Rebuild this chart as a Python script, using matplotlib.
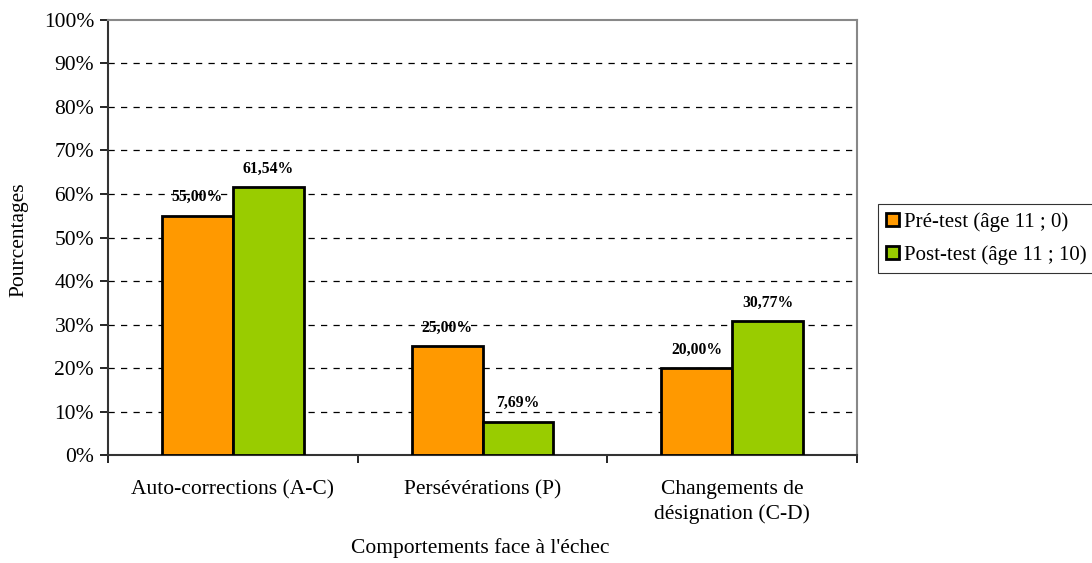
import matplotlib
matplotlib.use("Agg")
import matplotlib.pyplot as plt
import numpy as np

categories = ["Auto-corrections (A-C)", "Persévérations (P)", "Changements de\ndésignation (C-D)"]
series_names = ["Pré-test (âge 11 ; 0)", "Post-test (âge 11 ; 10)"]
pre_test = [55.00, 25.00, 20.00]
post_test = [61.54, 7.69, 30.77]
colors = ["#FF9900", "#99CC00"]
yticks = list(range(0, 101, 10))

plt.rcParams['font.family'] = ['Liberation Serif', 'DejaVu Serif']

fig = plt.figure(figsize=(10.92, 5.63), dpi=100)
ax = fig.add_axes([0.0989, 0.1918, 0.6859, 0.7727])

x = np.arange(len(categories))
w = 0.284
for i, (vals, col, name) in enumerate(zip([pre_test, post_test], colors, series_names)):
    pos = x + (i - 0.5) * w
    ax.bar(pos, vals, width=w, color=col, edgecolor="black", linewidth=2, label=name, zorder=3)
    for px, v in zip(pos, vals):
        ax.annotate(f"{v:.2f}%".replace(".", ","), (px, v), xytext=(0, 7.5),
                    textcoords="offset points", ha="center", va="bottom",
                    fontsize=11.3, fontweight="bold", zorder=4)

ax.set_xlim(-0.5, len(categories) - 0.5)
ax.set_ylim(0, 100)
ax.set_yticks(yticks)
ax.set_yticklabels([f"{t}%" for t in yticks], fontsize=15.5)
ax.set_xticks(x)
ax.set_xticklabels(categories, fontsize=15.5, linespacing=1.35)
ax.tick_params(axis="x", length=0, pad=18)
ax.set_xticks(np.arange(len(categories) + 1) - 0.5, minor=True)
ax.tick_params(axis="x", which="minor", length=6, width=1.2, direction="out")
ax.tick_params(axis="y", length=6, width=1.2, direction="out", pad=4)

for t in yticks[1:-1]:
    ax.axhline(t, color="black", linestyle=(0, (5, 5)), linewidth=0.9, zorder=1)

for s in ["left", "bottom"]:
    ax.spines[s].set_color("#333333")
    ax.spines[s].set_linewidth(1.5)
for s in ["top", "right"]:
    ax.spines[s].set_color("#888888")
    ax.spines[s].set_linewidth(1.5)

fig.text(19 / 1092, 1 - 240 / 563, "Pourcentages", rotation=90,
         ha="center", va="center", fontsize=15.5)
fig.text(480 / 1092, 1 - 548 / 563, "Comportements face à l'échec",
         ha="center", va="center", fontsize=15.5)

leg = fig.legend(loc="upper left", bbox_to_anchor=(0.804, 0.638), fontsize=15,
                 frameon=True, fancybox=False, edgecolor="black", borderpad=0.4,
                 handlelength=0.6, handleheight=0.6, handletextpad=0.25,
                 labelspacing=0.65, borderaxespad=0)
leg.get_frame().set_linewidth(0.8)

fig.savefig("out.png", dpi=100)
